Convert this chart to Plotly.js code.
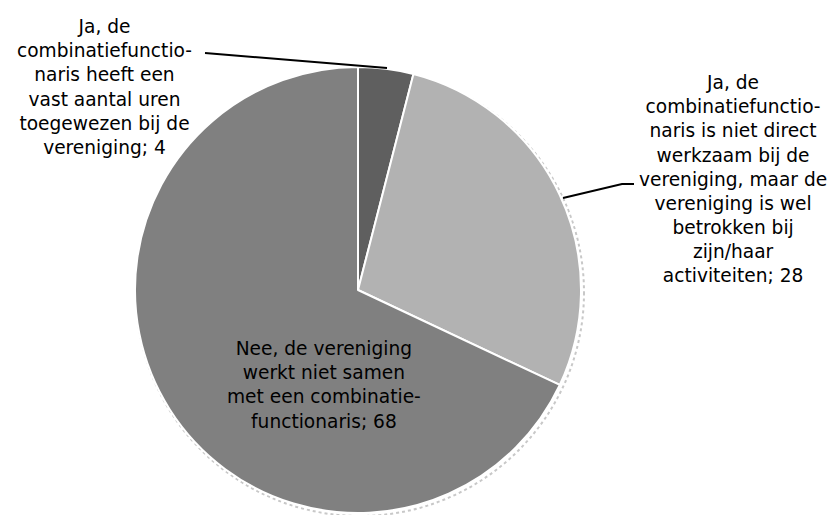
<!DOCTYPE html>
<html>
<head>
<meta charset="utf-8">
<script src="https://cdn.plot.ly/plotly-3.0.1.min.js"></script>
<style>html,body{margin:0;padding:0;background:#fff;}#chart{width:835px;height:515px;}</style>
</head>
<body>
<div id="chart"></div>
<script>
const categories = [
  "Ja, de<br>combinatiefunctio-<br>naris heeft een<br>vast aantal uren<br>toegewezen bij de<br>vereniging",
  "Ja, de<br>combinatiefunctio-<br>naris is niet direct<br>werkzaam bij de<br>vereniging, maar de<br>vereniging is wel<br>betrokken bij<br>zijn/haar<br>activiteiten",
  "Nee, de vereniging<br>werkt niet samen<br>met een combinatie-<br>functionaris"
];
const values = [4, 28, 68];
const colors = ["#5f5f5f", "#b2b2b2", "#808080"];

const W = 835, H = 515;
const px = x => x / W;
const py = y => 1 - y / H;

const labelPos = [
  {x: 104, y: 87},
  {x: 733, y: 179},
  {x: 324, y: 385}
];

const annotations = categories.map((c, i) => ({
  text: c + "; " + values[i],
  x: px(labelPos[i].x), y: py(labelPos[i].y),
  xref: "paper", yref: "paper",
  xanchor: "center", yanchor: "middle",
  align: "center", showarrow: false,
  font: {family: "DejaVu Sans", size: 18.6, color: "#000"}
}));

const shapes = [
  {type: "circle", xref: "paper", yref: "paper", layer: "below",
   x0: px(136), x1: px(584), y0: py(69), y1: py(516),
   line: {color: "#c8c8c8", width: 2, dash: "dot"}, fillcolor: "rgba(0,0,0,0)"},
  {type: "line", xref: "paper", yref: "paper",
   x0: px(205), y0: py(53), x1: px(387), y1: py(68),
   line: {color: "#000", width: 2}},
  {type: "path", xref: "paper", yref: "paper",
   path: `M ${px(563)} ${py(198)} L ${px(622)} ${py(184)} L ${px(634)} ${py(184)}`,
   line: {color: "#000", width: 2}}
];

const data = [{
  type: "pie",
  values: values,
  labels: categories,
  marker: {colors: colors, line: {color: "#ffffff", width: 2}},
  sort: false,
  direction: "clockwise",
  rotation: 0,
  textinfo: "none",
  hoverinfo: "none",
  domain: {x: [px(135), px(581)], y: [py(513), py(67)]},
  showlegend: false
}];

const layout = {
  width: W, height: H,
  margin: {l: 0, r: 0, t: 0, b: 0},
  paper_bgcolor: "#ffffff",
  plot_bgcolor: "#ffffff",
  showlegend: false,
  annotations: annotations,
  shapes: shapes
};

Plotly.newPlot("chart", data, layout, {displayModeBar: false, staticPlot: true});
</script>
</body>
</html>
